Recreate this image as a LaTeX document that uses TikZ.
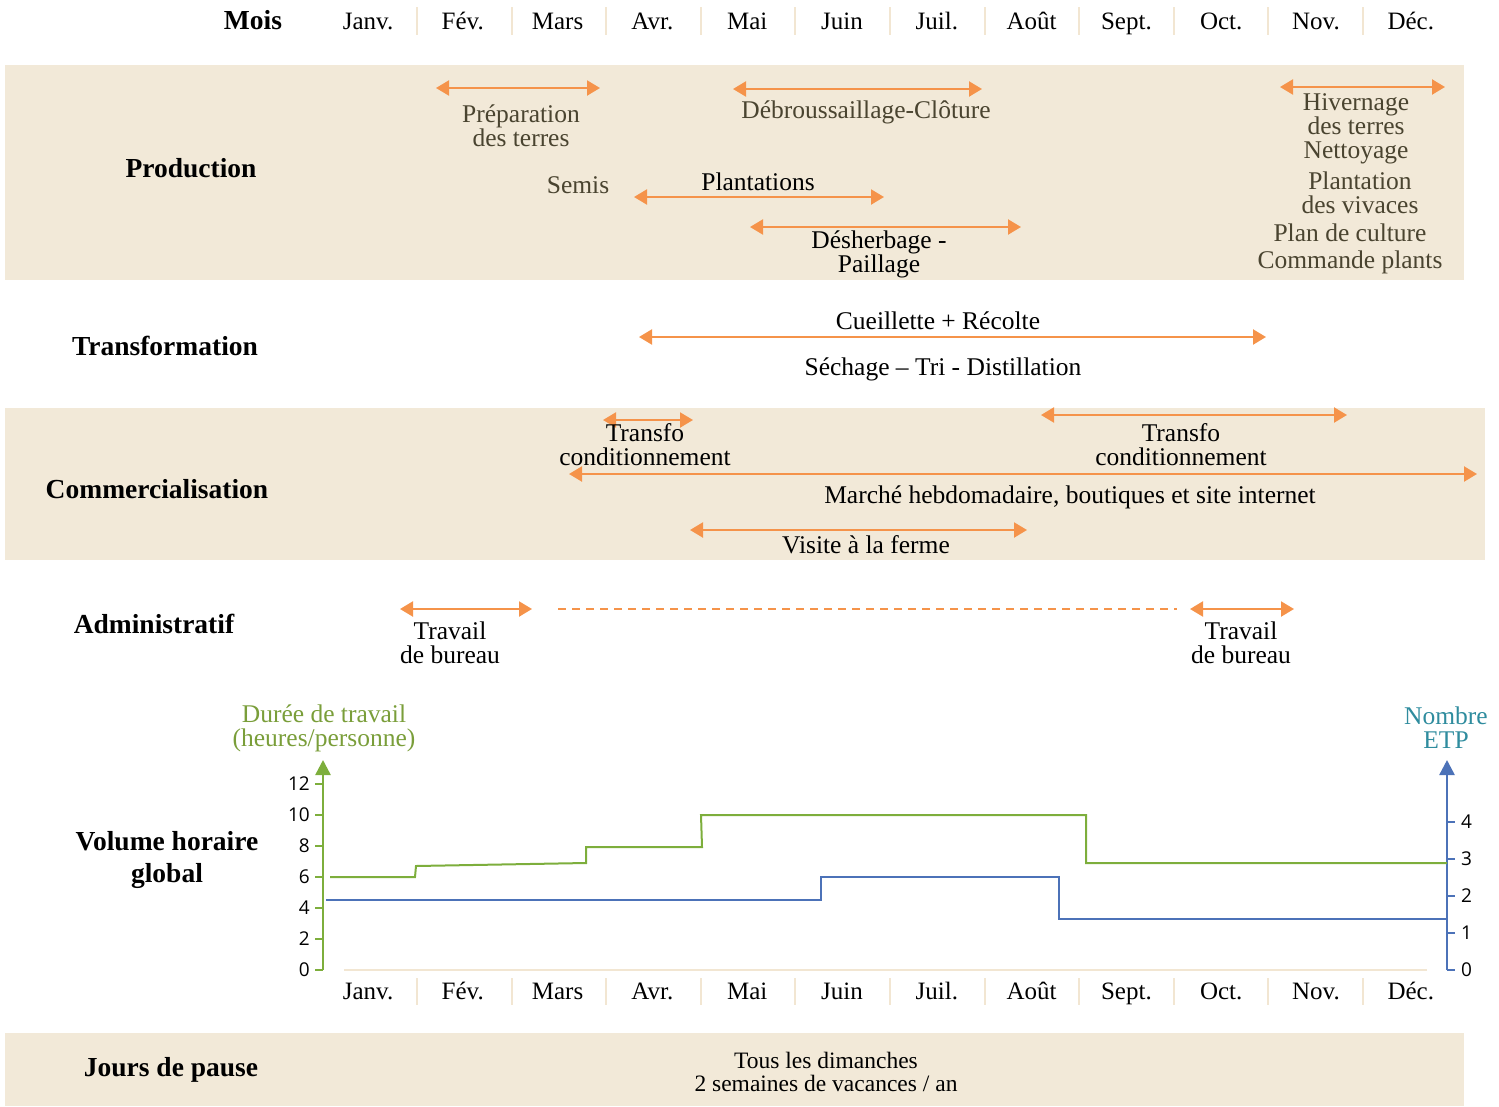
\documentclass[tikz,border=0pt]{standalone}
\usepackage{fontspec}
\setmainfont{Liberation Serif}
\newfontfamily\numfont{Open Sans}
\usetikzlibrary{arrows.meta}
\definecolor{band}{HTML}{F2E9D8}
\definecolor{orng}{HTML}{F5934A}
\definecolor{dbrown}{HTML}{4A4430}
\definecolor{grn}{HTML}{7DAE3C}
\definecolor{grntxt}{HTML}{7A9E3A}
\definecolor{blu}{HTML}{4C72B8}
\definecolor{tealtxt}{HTML}{2F8C9E}
\definecolor{sepcol}{HTML}{F2E6D2}
\begin{document}
\begin{tikzpicture}[x=1pt,y=-1pt,
  every node/.style={inner sep=0pt, align=center},
  hdr/.style={font=\fontsize{27.5}{32}\selectfont\bfseries},
  txt/.style={font=\fontsize{25.5}{24}\selectfont},
  dtxt/.style={txt, text=dbrown},
  mon/.style={font=\fontsize{25}{25}\selectfont, anchor=base},
  num/.style={font=\numfont\fontsize{19}{19}\selectfont},
  arr/.style={draw=orng, line width=2.2pt, {Triangle[length=13pt,width=15pt]}-{Triangle[length=13pt,width=15pt]}},
  sepline/.style={draw=sepcol, line width=2pt},
]
\useasboundingbox (0,0) rectangle (1499,1106);
% bands
\fill[band] (5,65) rectangle (1464,280);
\fill[band] (5,408) rectangle (1485,560);
\fill[band] (5,1033) rectangle (1464,1106);

% header months
\node[hdr, anchor=base] (mois) at (253,29) {Mois};
\foreach \m [count=\i from 0] in {Janv.,Fév.,Mars,Avr.,Mai,Juin,Juil.,Août,Sept.,Oct.,Nov.,Déc.}{
  \node[mon] (m\i) at ({368+94.8*\i},29) {\m};
  \node[mon] (b\i) at ({368+94.8*\i},999) {\m};
}
\foreach \j in {0,...,10}{
  \draw[sepline] ({417+94.6*\j},7) -- ({417+94.6*\j},35);
  \draw[sepline] ({417+94.6*\j},978) -- ({417+94.6*\j},1005);
}

% Production
\node[hdr] (prod) at (191,168) {Production};
\coordinate (pa1) at (436,88); \coordinate (pa2) at (600,88);
\draw[arr] (pa1) -- (pa2);
\node[dtxt] (prep) at (521,126) {Préparation\\des terres};
\coordinate (db1) at (733,89); \coordinate (db2) at (982,89);
\draw[arr] (db1) -- (db2);
\node[dtxt] (debr) at (866,112) {Débroussaillage-Clôture};
\node[dtxt] (semis) at (578,185) {Semis};
\node[txt] (plant) at (758,182) {Plantations};
\coordinate (pl1) at (634,197); \coordinate (pl2) at (884,197);
\draw[arr] (pl1) -- (pl2);
\coordinate (de1) at (750,227); \coordinate (de2) at (1021,227);
\draw[arr] (de1) -- (de2);
\node[txt] (desh) at (879,254) {Désherbage -\\Paillage};
\coordinate (hv1) at (1280,87); \coordinate (hv2) at (1445,87);
\draw[arr] (hv1) -- (hv2);
\node[dtxt, font=\fontsize{25.5}{23}\selectfont] (hiv) at (1356,114) {Hivernage\\des terres};
\node[dtxt] (nett) at (1356,153) {Nettoyage};
\node[dtxt, font=\fontsize{25.5}{23.5}\selectfont] (pviv) at (1360,193) {Plantation\\des vivaces};
\node[dtxt,font=\fontsize{25.5}{27}\selectfont] (plan) at (1350,249) {Plan de culture\\Commande plants};

% Transformation
\node[hdr] (trans) at (165,346) {Transformation};
\node[txt] (cueil) at (938,321) {Cueillette + Récolte};
\coordinate (cu1) at (639,337); \coordinate (cu2) at (1266,337);
\draw[arr] (cu1) -- (cu2);
\node[txt] (sech) at (943,369) {Séchage – Tri - Distillation};

% Commercialisation
\node[hdr] (comm) at (157,489) {Commercialisation};
\coordinate (tc1) at (603,420); \coordinate (tc2) at (693,420);
\draw[arr] (tc1) -- (tc2);
\node[txt] (tcA) at (645,445) {Transfo\\conditionnement};
\coordinate (td1) at (1041,415); \coordinate (td2) at (1347,415);
\draw[arr] (td1) -- (td2);
\node[txt] (tcB) at (1181,445) {Transfo\\conditionnement};
\coordinate (ma1) at (569,474); \coordinate (ma2) at (1477,474);
\draw[arr] (ma1) -- (ma2);
\node[txt] (march) at (1070,497) {Marché hebdomadaire, boutiques et site internet};
\coordinate (vi1) at (690,530); \coordinate (vi2) at (1027,530);
\draw[arr] (vi1) -- (vi2);
\node[txt] (visit) at (866,545) {Visite à la ferme};

% Administratif
\node[hdr] (admin) at (154,624) {Administratif};
\coordinate (ad1) at (400,609); \coordinate (ad2) at (532,609);
\draw[arr] (ad1) -- (ad2);
\node[txt] (trA) at (450,643) {Travail\\de bureau};
\coordinate (dl1) at (558,609); \coordinate (dl2) at (1177,609);
\draw[orng, line width=2pt, dash pattern=on 8pt off 6pt] (dl1) -- (dl2);
\coordinate (ae1) at (1190,609); \coordinate (ae2) at (1294,609);
\draw[arr] (ae1) -- (ae2);
\node[txt] (trB) at (1241,643) {Travail\\de bureau};

% Volume horaire
\node[hdr] (vol) at (167,860) {Volume horaire\\global};
\node[txt, text=grntxt] (dur) at (324,728) {Durée de travail\\(heures/personne)};
\node[txt, text=tealtxt] (etp) at (1446,728) {Nombre\\ETP};
\draw[sepline, line width=2.5pt] (344,970) -- (1427,970);
% left axis
\coordinate (ga0) at (323,970); \coordinate (ga1) at (323,760);
\draw[grn, line width=2.5pt, -{Triangle[length=15pt,width=15pt]}] (ga0) -- (ga1);
\foreach \v [count=\k from 0] in {0,2,4,6,8,10,12}{
  \draw[grn, line width=2.5pt] (315,{970-31*\k}) -- (323,{970-31*\k});
  \node[num, anchor=east] (gl\k) at (310,{970-31*\k}) {\v};
}
% right axis
\coordinate (ba0) at (1447,970); \coordinate (ba1) at (1447,760);
\draw[blu, line width=2.5pt, -{Triangle[length=15pt,width=15pt]}] (ba0) -- (ba1);
\foreach \k in {0,...,4}{
  \draw[blu, line width=2.5pt] (1447,{970-37*\k}) -- (1455,{970-37*\k});
  \node[num, anchor=west] (bl\k) at (1461,{970-37*\k}) {\k};
}
% data lines
\draw[grn, line width=2pt] (330,877) -- (415,877) -- (416,866) -- (586,863) -- (586,847) -- (702,847) -- (701,815) -- (1086,815) -- (1086,863) -- (1447,863);
\draw[blu, line width=2pt] (326,900) -- (821,900) -- (821,877) -- (1059,877) -- (1059,919) -- (1447,919);

% Jours de pause
\node[hdr] (pause) at (171,1070) {Jours de pause};
\node[font=\fontsize{23.5}{23}\selectfont] (dim) at (826,1072) {Tous les dimanches\\2 semaines de vacances / an};
\end{tikzpicture}
\end{document}
